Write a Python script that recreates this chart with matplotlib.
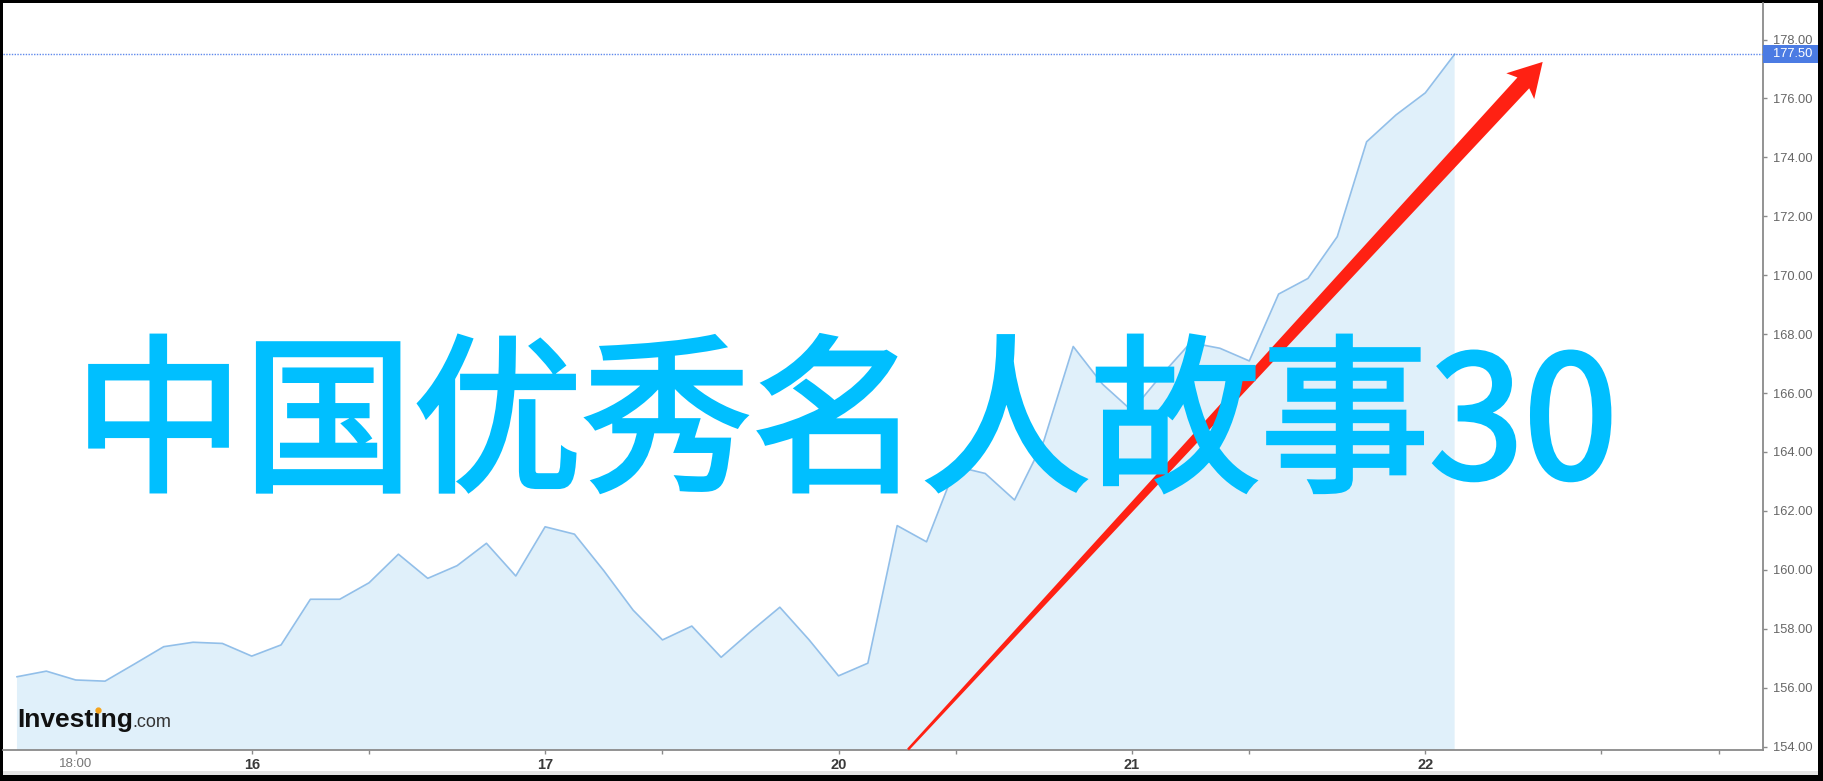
import matplotlib
matplotlib.use("Agg")
import matplotlib.pyplot as plt
import matplotlib.patheffects as pe
import numpy as np
from matplotlib.patches import Rectangle, Polygon
from matplotlib.lines import Line2D
from matplotlib.transforms import blended_transform_factory, IdentityTransform

# price series, one point per bar (index on the x axis)
prices = [156.37, 156.56, 156.26, 156.22, 156.80, 157.39, 157.54, 157.50, 157.07, 157.45,
          159.00, 159.00, 159.56, 160.53, 159.71, 160.14, 160.90, 159.79, 161.46, 161.21,
          159.97, 158.63, 157.62, 158.09, 157.03, 157.90, 158.73, 157.62, 156.40, 156.83,
          161.50, 160.95, 163.51, 163.27, 162.37, 164.38, 167.58, 166.30, 165.40, 166.60,
          167.71, 167.52, 167.09, 169.36, 169.89, 171.31, 174.53, 175.44, 176.19, 177.50]
x_tick_pos = [2, 8, 12, 18, 22, 28, 32, 38, 42, 48, 54, 58]
x_tick_labels = ["18:00", "16", "", "17", "", "20", "", "21", "", "22", "", ""]
y_ticks = [154, 156, 158, 160, 162, 164, 166, 168, 170, 172, 174, 176, 178]
last_price = 177.50
title = "中国优秀名人故事30"
arrow_start = (30.37, 153.90)
arrow_end = (52.0, 177.24)

W, H = 1823, 781
plt.rcParams["font.family"] = ["Liberation Sans", "DejaVu Sans"]

fig = plt.figure(figsize=(W / 100, H / 100), dpi=100, facecolor="black")
fig.add_artist(Rectangle((3 / W, 6 / H), 1815 / W, 772 / H, transform=fig.transFigure,
                         facecolor="white", edgecolor="none", zorder=-10))
fig.add_artist(Rectangle((3 / W, 6 / H), 1815 / W, 4 / H, transform=fig.transFigure,
                         facecolor="#e4e4e4", edgecolor="none", zorder=-9))

ax = fig.add_axes([3 / W, 31.5 / H, 1760 / W, 746.5 / H])
ax.set_facecolor("white")
x = np.arange(len(prices))
ax.fill_between(x, prices, 150, color="#e0f0fa", lw=0, zorder=1)
ax.plot(x, prices, color="#92bfe9", lw=1.2, zorder=2)
ax.set_xlim(-0.477, 59.51)
ax.set_ylim(153.90, 179.24)

for s in ["left", "top"]:
    ax.spines[s].set_visible(False)
for s in ["right", "bottom"]:
    ax.spines[s].set_color("#8a8a8a")
    ax.spines[s].set_linewidth(1.3)

ax.yaxis.tick_right()
ax.set_yticks(y_ticks)
ax.set_yticklabels([f"{v:.2f}" for v in y_ticks])
ax.tick_params(axis="y", length=3, width=1, color="#8a8a8a", pad=4,
               labelsize=9.3, labelcolor="#666666")
ax.set_xticks(x_tick_pos)
ax.set_xticklabels(x_tick_labels)
ax.tick_params(axis="x", length=3, width=1, color="#8a8a8a", pad=3)
for lbl in ax.get_xticklabels():
    if lbl.get_text() == "18:00":
        lbl.set_fontsize(9.5)
        lbl.set_color("#777777")
    else:
        lbl.set_fontsize(10.5)
        lbl.set_fontweight("bold")
        lbl.set_color("#3a3a3a")

# last price line and tag
ax.axhline(last_price, color="#5f89ec", lw=1, ls=(0, (1, 1)), zorder=3)
tr = blended_transform_factory(ax.transAxes, ax.transData)
ax.add_patch(Rectangle((1.0, last_price - 0.30), 55 / 1760, 0.60, transform=tr,
                       facecolor="#4b7be3", edgecolor="none", clip_on=False, zorder=5))
ax.text(1.0 + 10 / 1760, last_price, f"{last_price:.2f}", transform=tr, ha="left",
        va="center", color="white", fontsize=9.3, clip_on=False, zorder=6)

# tapered red arrow, built in pixel space from the data anchors
p0 = ax.transData.transform(arrow_start)
p1 = ax.transData.transform(arrow_end)
u = (p1 - p0) / np.hypot(*(p1 - p0))
n = np.array([-u[1], u[0]])
w0, w1, hw, hl, notch = 2.5, 16, 38, 33, 4.5
base = p1 - u * hl
s_end = p1 - u * (hl - notch)
pts = [p0 + n * w0 / 2, s_end + n * w1 / 2, base + n * hw / 2, p1,
       base - n * hw / 2, s_end - n * w1 / 2, p0 - n * w0 / 2]
fig.add_artist(Polygon(pts, closed=True, transform=IdentityTransform(),
                       facecolor="#ff2113", edgecolor="none", zorder=4))

# big title over the chart
fig.text(846 / W, (H - 478) / H, title, ha="center", va="baseline", color="#00bfff",
         fontsize=122, fontweight="normal", family=["Noto Sans CJK SC", "DejaVu Sans"],
         zorder=10,
         path_effects=[pe.withStroke(linewidth=3.0, foreground="#00bfff",
                                     joinstyle="miter", capstyle="projecting")])

# Investing.com logo
fig.canvas.draw()
r = fig.canvas.get_renderer()
lx, ly = 17, H - 727
logo = fig.text(lx / W, ly / H, "Investıng", fontsize=19, fontweight="bold",
                color="#111111", va="baseline", zorder=8)
probe = fig.text(lx / W, ly / H, "Invest", fontsize=19, fontweight="bold", va="baseline")
ibox = fig.text(lx / W, ly / H, "i", fontsize=19, fontweight="bold", va="baseline")
wb = logo.get_window_extent(r)
wp = probe.get_window_extent(r).width
wi = ibox.get_window_extent(r).width
probe.remove()
ibox.remove()
fig.text(wb.x1 / W, ly / H, ".com", fontsize=13, color="#333333", va="baseline", zorder=8)
fig.add_artist(Line2D([(lx + wp + wi / 2 + 1) / W], [(H - 710) / H], marker="o", ms=3.5,
                      color="#f5a31a", transform=fig.transFigure, zorder=9))

fig.savefig("out.png", dpi=100, facecolor=fig.get_facecolor())
